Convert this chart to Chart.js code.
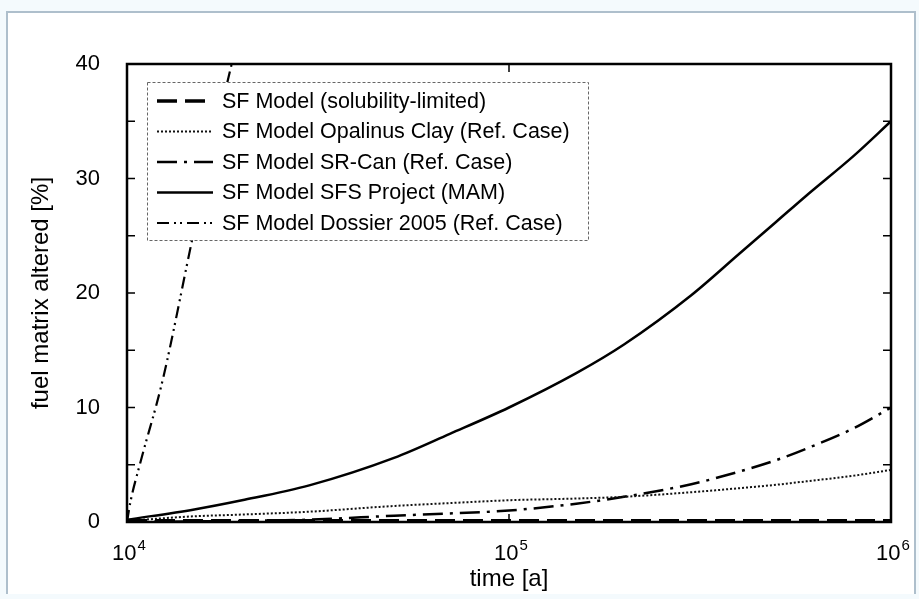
<!DOCTYPE html>
<html>
<head>
<meta charset="utf-8">
<script src="https://cdn.jsdelivr.net/npm/chart.js@4.4.1/dist/chart.umd.min.js"></script>
<style>
html, body { margin: 0; padding: 0; background: #f4fafd; }
body { width: 919px; height: 599px; position: relative; overflow: hidden; }
#frame { position: absolute; left: 6px; top: 11px; width: 906px; height: 581px; background: #fff; border: 2px solid #aebfcc; border-bottom: none; }
#wrap { position: absolute; left: 0; top: 0; width: 919px; height: 599px; }
</style>
</head>
<body>
<div id="frame"></div>
<div id="wrap"><canvas id="fuelChart"></canvas></div>
<script>
// time axis [a]
var times = [1e4, 1.5e4, 2e4, 3e4, 5e4, 7e4, 1e5, 1.5e5, 2e5, 3e5, 4e5, 5e5, 6e5, 8e5, 1e6];
var solubilityLimited = [0.1, 0.1, 0.1, 0.1, 0.1, 0.1, 0.1, 0.1, 0.1, 0.1, 0.1, 0.1, 0.1, 0.1, 0.1];
var opalinusClay = [0.1, 0.5, 0.65, 0.9, 1.4, 1.65, 1.9, 2.05, 2.2, 2.6, 2.95, 3.25, 3.55, 4.05, 4.55];
var srCan = [0, 0.05, 0.1, 0.2, 0.55, 0.75, 1.0, 1.6, 2.2, 3.3, 4.4, 5.4, 6.4, 8.2, 10.0];
var sfsProject = [0.2, 1.1, 1.9, 3.2, 5.6, 7.7, 10.0, 13.0, 15.5, 19.8, 23.4, 26.2, 28.5, 32.0, 35.0];
var dossierTimes = [1e4, 1.02e4, 1.08e4, 1.24e4, 1.5e4, 1.88e4, 2.1e4];
var dossier2005 = [0, 1.7, 5.0, 12.4, 25.5, 40, 46];

var seriesLabels = [
    'SF Model (solubility-limited)',
    'SF Model Opalinus Clay (Ref. Case)',
    'SF Model SR-Can (Ref. Case)',
    'SF Model SFS Project (MAM)',
    'SF Model Dossier 2005 (Ref. Case)'
];
var xTickExponents = [4, 5, 6];
var yTickValues = [0, 5, 10, 15, 20, 25, 30, 35, 40];

var FONT = '"Liberation Sans", Arial, Helvetica, sans-serif';

function toPoints(xs, ys) {
    return xs.map(function (x, i) { return { x: x, y: ys[i] }; });
}

// legend drawn inside the plot, with a dashed box
var legendBox = {
    id: 'legendBox',
    afterDatasetsDraw: function (chart) {
        var c = chart.ctx, a = chart.chartArea;
        var x0 = a.left + 20, y0 = a.top + 18, w = 441, h = 158;
        c.save();
        c.fillStyle = '#fff';
        c.fillRect(x0, y0, w, h);
        c.setLineDash([3, 2]);
        c.strokeStyle = '#666';
        c.lineWidth = 1;
        c.strokeRect(x0 + 0.5, y0 + 0.5, w, h);
        c.font = '21.5px ' + FONT;
        c.textBaseline = 'middle';
        chart.data.datasets.forEach(function (ds, i) {
            var y = y0 + 19 + i * 30.5;
            c.setLineDash(ds.borderDash || []);
            c.lineWidth = ds.borderWidth;
            c.strokeStyle = ds.borderColor;
            c.beginPath();
            c.moveTo(x0 + 10, y);
            c.lineTo(x0 + 66, y);
            c.stroke();
            c.fillStyle = '#000';
            c.fillText(ds.label, x0 + 75, y + 1);
        });
        c.restore();
    }
};

// box, inward ticks on all four sides, and 10^n labels
var frameTicks = {
    id: 'frameTicks',
    afterDraw: function (chart) {
        var c = chart.ctx, a = chart.chartArea;
        var xs = chart.scales.x, ys = chart.scales.y;
        var len = 8;
        c.save();
        c.setLineDash([]);
        c.strokeStyle = '#000';
        c.lineWidth = 1.5;
        c.beginPath();
        yTickValues.forEach(function (v) {
            var py = ys.getPixelForValue(v);
            c.moveTo(a.left, py); c.lineTo(a.left + len, py);
            c.moveTo(a.right, py); c.lineTo(a.right - len, py);
        });
        xTickExponents.forEach(function (e) {
            var px = xs.getPixelForValue(Math.pow(10, e));
            c.moveTo(px, a.bottom); c.lineTo(px, a.bottom - len);
            c.moveTo(px, a.top); c.lineTo(px, a.top + len);
        });
        c.stroke();
        c.lineWidth = 2.5;
        c.strokeRect(a.left, a.top, a.right - a.left, a.bottom - a.top);

        c.fillStyle = '#000';
        c.textBaseline = 'alphabetic';
        xTickExponents.forEach(function (e) {
            var px = xs.getPixelForValue(Math.pow(10, e));
            c.font = '22px ' + FONT;
            var wb = c.measureText('10').width;
            c.font = '15px ' + FONT;
            var we = c.measureText(String(e)).width;
            var start = px - (wb + we + 1) / 2 + 2;
            c.font = '22px ' + FONT;
            c.fillText('10', start, a.bottom + 38);
            c.font = '15px ' + FONT;
            c.fillText(String(e), start + wb + 1, a.bottom + 28);
        });
        c.restore();
    }
};

var chartData = {
    datasets: [{
        label: seriesLabels[0],
        data: toPoints(times, solubilityLimited),
        borderColor: '#000',
        borderWidth: 3.5,
        borderDash: [20, 8]
    },
    {
        label: seriesLabels[1],
        data: toPoints(times, opalinusClay),
        borderColor: '#111',
        borderWidth: 2,
        borderDash: [2, 2]
    },
    {
        label: seriesLabels[2],
        data: toPoints(times, srCan),
        borderColor: '#000',
        borderWidth: 2.5,
        borderDash: [20, 7, 3, 7]
    },
    {
        label: seriesLabels[3],
        data: toPoints(times, sfsProject),
        borderColor: '#000',
        borderWidth: 2.5,
        borderDash: []
    },
    {
        label: seriesLabels[4],
        data: toPoints(dossierTimes, dossier2005),
        borderColor: '#000',
        borderWidth: 2.2,
        borderDash: [12, 5, 2, 4, 2, 5]
    }]
};

var ctx = document.getElementById('fuelChart');

var fuelChart = new Chart(ctx, {
    type: 'line',
    data: chartData,
    options: {
        responsive: true,
        maintainAspectRatio: false,
        animation: false,
        layout: { padding: { top: 64, right: 28, bottom: 0, left: 0 } },
        elements: {
            point: { radius: 0 },
            line: { tension: 0.3, cubicInterpolationMode: 'monotone', fill: false }
        },
        plugins: {
            legend: { display: false },
            tooltip: { enabled: false }
        },
        scales: {
            x: {
                type: 'logarithmic',
                min: 1e4,
                max: 1e6,
                grid: { display: false, drawTicks: false },
                border: { display: false },
                ticks: { display: false },
                title: {
                    display: true,
                    text: 'time [a]',
                    color: '#000',
                    font: { family: FONT, size: 24 },
                    padding: { top: 0, bottom: 5 }
                },
                afterFit: function (scale) { scale.height = 77; }
            },
            y: {
                min: 0,
                max: 40,
                grid: { display: false, drawTicks: false },
                border: { display: false },
                ticks: {
                    stepSize: 5,
                    padding: 27,
                    color: '#000',
                    font: { family: FONT, size: 22 },
                    callback: function (value) { return value % 10 === 0 ? value : ''; }
                },
                title: {
                    display: true,
                    text: 'fuel matrix altered [%]',
                    color: '#000',
                    font: { family: FONT, size: 24 },
                    padding: { top: 27, bottom: 0 }
                },
                afterFit: function (scale) { scale.width = 127; }
            }
        }
    },
    plugins: [legendBox, frameTicks]
});
</script>
</body>
</html>
